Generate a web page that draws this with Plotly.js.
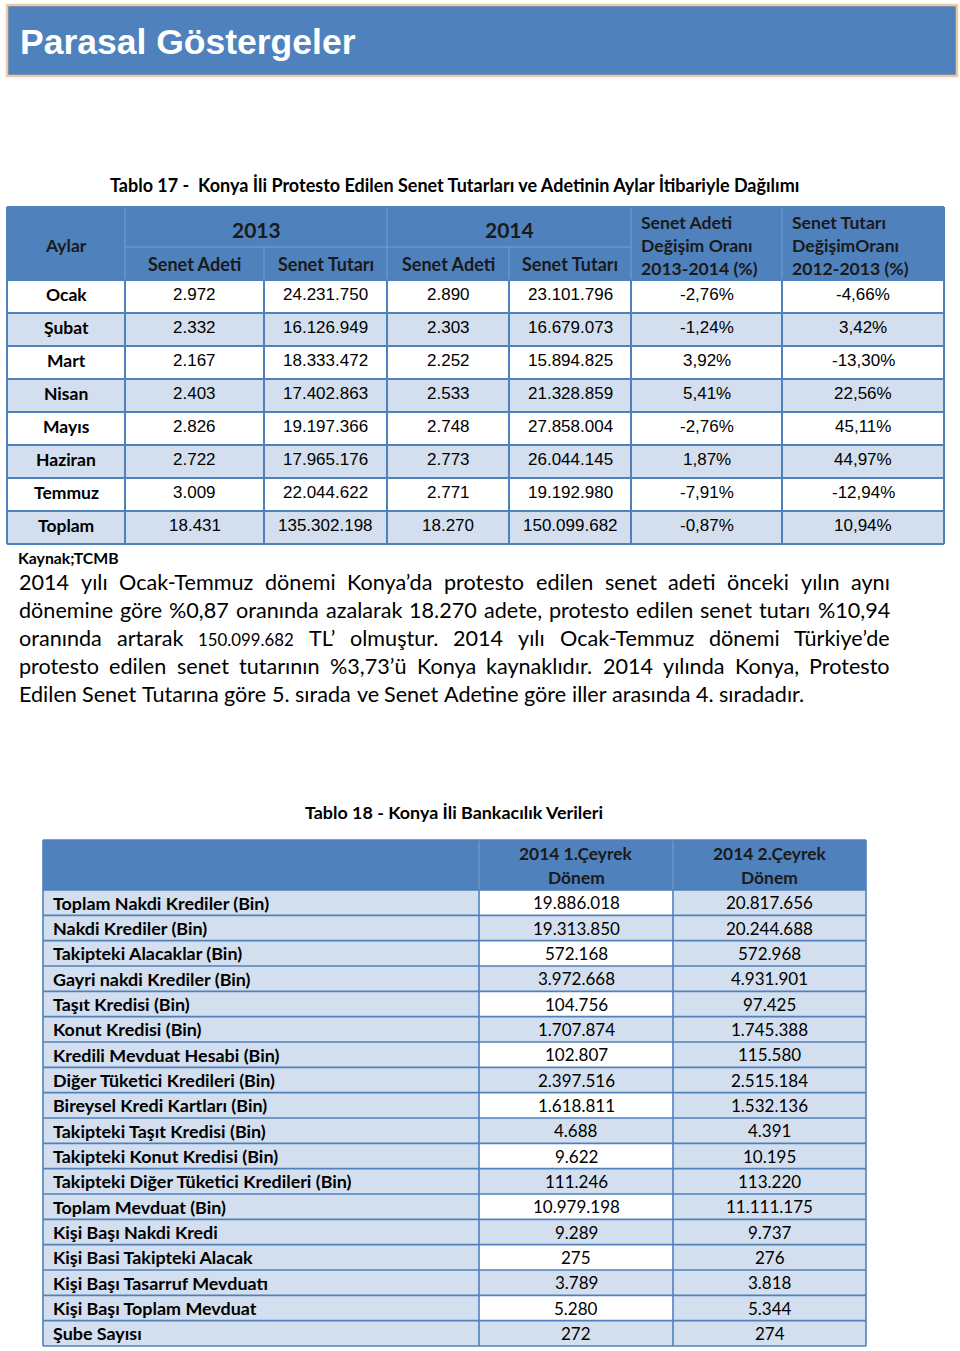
<!DOCTYPE html>
<html>
<head>
<meta charset="utf-8">
<script src="https://cdn.plot.ly/plotly-3.0.1.min.js"></script>
<style>html,body{margin:0;padding:0;background:#fff;}#chart{width:960px;height:1351px;}</style>
</head>
<body>
<div id="chart"></div>
<script>
// ---------------- DATA ----------------
const pageTitle = 'Parasal Göstergeler';
const table17Title = 'Tablo 17 -  Konya İli Protesto Edilen Senet Tutarları ve Adetinin Aylar İtibariyle Dağılımı';
const years = ['2013', '2014'];
const subHeaders = ['Senet Adeti', 'Senet Tutarı'];
const changeHeaderA = ['Senet Adeti', 'Değişim Oranı', '2013-2014 (%)'];
const changeHeaderB = ['Senet Tutarı', 'DeğişimOranı', '2012-2013 (%)'];
const months = ['Ocak', 'Şubat', 'Mart', 'Nisan', 'Mayıs', 'Haziran', 'Temmuz', 'Toplam'];
const adet2013 = ['2.972', '2.332', '2.167', '2.403', '2.826', '2.722', '3.009', '18.431'];
const tutar2013 = ['24.231.750', '16.126.949', '18.333.472', '17.402.863', '19.197.366', '17.965.176', '22.044.622', '135.302.198'];
const adet2014 = ['2.890', '2.303', '2.252', '2.533', '2.748', '2.773', '2.771', '18.270'];
const tutar2014 = ['23.101.796', '16.679.073', '15.894.825', '21.328.859', '27.858.004', '26.044.145', '19.192.980', '150.099.682'];
const adetChange = ['-2,76%', '-1,24%', '3,92%', '5,41%', '-2,76%', '1,87%', '-7,91%', '-0,87%'];
const tutarChange = ['-4,66%', '3,42%', '-13,30%', '22,56%', '45,11%', '44,97%', '-12,94%', '10,94%'];
const sourceNote = 'Kaynak;TCMB';
const paragraphLines = [
  '2014 yılı Ocak-Temmuz dönemi Konya’da protesto edilen senet adeti önceki yılın aynı',
  'dönemine göre %0,87 oranında azalarak 18.270 adete, protesto edilen senet tutarı %10,94',
  'oranında artarak 150.099.682 TL’ olmuştur. 2014 yılı Ocak-Temmuz dönemi Türkiye’de',
  'protesto edilen senet tutarının %3,73’ü Konya kaynaklıdır. 2014 yılında Konya, Protesto',
  'Edilen Senet Tutarına göre 5. sırada ve Senet Adetine göre iller arasında 4. sıradadır.'
];
const table18Title = 'Tablo 18 - Konya İli Bankacılık Verileri';
const quarterHeaders = [['2014 1.Çeyrek', 'Dönem'], ['2014 2.Çeyrek', 'Dönem']];
const bankLabels = [
  'Toplam Nakdi Krediler (Bin)', 'Nakdi Krediler (Bin)', 'Takipteki Alacaklar (Bin)',
  'Gayri nakdi Krediler (Bin)', 'Taşıt Kredisi (Bin)', 'Konut Kredisi (Bin)',
  'Kredili Mevduat Hesabi (Bin)', 'Diğer Tüketici Kredileri (Bin)', 'Bireysel Kredi Kartları (Bin)',
  'Takipteki Taşıt Kredisi (Bin)', 'Takipteki Konut Kredisi (Bin)', 'Takipteki Diğer Tüketici Kredileri (Bin)',
  'Toplam Mevduat (Bin)', 'Kişi Başı Nakdi Kredi', 'Kişi Basi Takipteki Alacak',
  'Kişi Başı Tasarruf Mevduatı', 'Kişi Başı Toplam Mevduat', 'Şube Sayısı'
];
const q1Values = ['19.886.018', '19.313.850', '572.168', '3.972.668', '104.756', '1.707.874', '102.807', '2.397.516', '1.618.811', '4.688', '9.622', '111.246', '10.979.198', '9.289', '275', '3.789', '5.280', '272'];
const q2Values = ['20.817.656', '20.244.688', '572.968', '4.931.901', '97.425', '1.745.388', '115.580', '2.515.184', '1.532.136', '4.391', '10.195', '113.220', '11.111.175', '9.737', '276', '3.818', '5.344', '274'];

// ---------------- STYLE ----------------
const W = 960, H = 1351;
const BLUE = '#4f81bd', LIGHT = '#d3dfee', GRID = '#4f81bd', SUBTLE = '#7aa0d2';
const CAL = 'Lato, "Open Sans", sans-serif';
const ARI = '"Liberation Sans", Arial, sans-serif';
const shapes = [], annotations = [];

function rect(x0, y0, x1, y1, fill, lc, lw) {
  shapes.push({type: 'rect', xref: 'x', yref: 'y', x0, y0, x1, y1, fillcolor: fill,
    line: {color: lc || 'rgba(0,0,0,0)', width: lw || 0}, layer: 'below'});
}
function line(x0, y0, x1, y1, color, width) {
  shapes.push({type: 'line', xref: 'x', yref: 'y', x0, y0, x1, y1, line: {color, width}, layer: 'above'});
}
function txt(x, y, s, o) {
  o = o || {};
  annotations.push({xref: 'x', yref: 'y', x, y, text: o.bold ? '<b>' + s + '</b>' : s, showarrow: false,
    xanchor: o.anchor || 'center', yanchor: 'middle', yshift: o.yshift || 0,
    borderpad: 0, borderwidth: 0,
    font: {family: o.family || CAL, size: o.size || 17, color: o.color || '#000'}});
}

// canvas measurer for justified paragraph
const ctx = document.createElement('canvas').getContext('2d');
function measure(s, size, weight) {
  ctx.font = (weight || 'normal') + ' ' + size + 'px Lato';
  return ctx.measureText(s).width;
}

// ---------------- BANNER ----------------
rect(7, 5, 957, 76, BLUE, '#efc9a3', 2.5);
txt(20, 42, pageTitle, {anchor: 'left', bold: true, size: 35.5, family: ARI, color: '#ffffff'});

// ---------------- TABLE 17 ----------------
txt(454, 185, table17Title, {bold: true, size: 18});
const c1 = [7, 125, 264, 387, 509, 631, 782, 944];
const t1Top = 207, t1Mid = 247, t1HeadBot = 280, t1Row = 33;
rect(c1[0], t1Top, c1[7], t1HeadBot, BLUE);
months.forEach((m, i) => {
  const y0 = t1HeadBot + i * t1Row;
  rect(c1[0], y0, c1[7], y0 + t1Row, i % 2 === 0 ? '#ffffff' : LIGHT);
});
const t1Bot = t1HeadBot + months.length * t1Row;
// header subtle separators
line(c1[1], t1Top, c1[1], t1HeadBot, SUBTLE, 1);
line(c1[3], t1Top, c1[3], t1HeadBot, SUBTLE, 1);
line(c1[5], t1Top, c1[5], t1HeadBot, SUBTLE, 1);
line(c1[6], t1Top, c1[6], t1HeadBot, SUBTLE, 1);
line(c1[1], t1Mid, c1[5], t1Mid, SUBTLE, 1);
line(c1[2], t1Mid, c1[2], t1HeadBot, SUBTLE, 1);
line(c1[4], t1Mid, c1[4], t1HeadBot, SUBTLE, 1);
// body grid
for (let i = 0; i <= months.length; i++) line(c1[0], t1HeadBot + i * t1Row, c1[7], t1HeadBot + i * t1Row, GRID, 2);
c1.forEach((x, j) => line(x, (j === 0 || j === 7) ? t1Top : t1HeadBot, x, t1Bot, GRID, 2));
line(c1[0], t1Top, c1[7], t1Top, GRID, 2);
// header texts
const hc = '#1a1a1a';
txt((c1[0] + c1[1]) / 2, 245, 'Aylar', {bold: true, size: 17.5, color: hc});
txt((c1[1] + c1[3]) / 2, 229, years[0], {bold: true, size: 21, color: hc});
txt((c1[3] + c1[5]) / 2, 229, years[1], {bold: true, size: 21, color: hc});
[1, 2, 3, 4].forEach(j => txt((c1[j] + c1[j + 1]) / 2, 264, subHeaders[(j - 1) % 2], {bold: true, size: 18, color: hc}));
changeHeaderA.forEach((s, k) => txt(641, 222 + k * 23, s, {anchor: 'left', bold: true, size: 17.6, color: hc}));
changeHeaderB.forEach((s, k) => txt(792, 222 + k * 23, s, {anchor: 'left', bold: true, size: 17.6, color: hc}));
// body texts
const t1Cols = [adet2013, tutar2013, adet2014, tutar2014, adetChange, tutarChange];
months.forEach((m, i) => {
  const yc = t1HeadBot + i * t1Row + t1Row / 2 - 2;
  txt((c1[0] + c1[1]) / 2, yc, m, {bold: true, size: 17.5});
  t1Cols.forEach((col, j) => {
    txt((c1[j + 1] + c1[j + 2]) / 2, yc, col[i], {family: ARI, size: 17});
  });
});
txt(18, 557, sourceNote, {anchor: 'left', bold: true, size: 15.8});

// ---------------- PARAGRAPH (justified) ----------------
const pX0 = 19, pX1 = 890;
const lastLine = paragraphLines[paragraphLines.length - 1];
const pSize = Math.round(20 * 786 / measure(lastLine, 20) * 10) / 10;
const smallWord = '150.099.682', smallSize = pSize * 0.78;
paragraphLines.forEach((ln, k) => {
  const y = 582 + k * 28;
  const words = ln.split(' ');
  const sizes = words.map(w => (k === 2 && w === smallWord) ? smallSize : pSize);
  const widths = words.map((w, i) => measure(w, sizes[i]));
  const total = widths.reduce((a, b) => a + b, 0);
  const isLast = k === paragraphLines.length - 1;
  const gap = isLast ? measure(' ', pSize) : (pX1 - pX0 - total) / (words.length - 1);
  let x = pX0;
  words.forEach((w, i) => {
    txt(x, y, w, {anchor: 'left', size: sizes[i], yshift: sizes[i] < pSize ? -1.5 : 0});
    x += widths[i] + gap;
  });
});

// ---------------- TABLE 18 ----------------
txt(454, 812, table18Title, {bold: true, size: 17.9});
const c2 = [43, 479, 673, 866];
const t2Top = 840, t2HeadBot = 890, t2Row = (1346 - 890) / bankLabels.length;
rect(c2[0], t2Top, c2[3], t2HeadBot, BLUE);
bankLabels.forEach((lab, i) => {
  const y0 = t2HeadBot + i * t2Row;
  rect(c2[0], y0, c2[1], y0 + t2Row, LIGHT);
  rect(c2[1], y0, c2[2], y0 + t2Row, i % 2 === 0 ? '#ffffff' : LIGHT);
  rect(c2[2], y0, c2[3], y0 + t2Row, LIGHT);
});
const t2Bot = t2HeadBot + bankLabels.length * t2Row;
line(c2[1], t2Top, c2[1], t2HeadBot, SUBTLE, 1);
line(c2[2], t2Top, c2[2], t2HeadBot, SUBTLE, 1);
for (let i = 0; i <= bankLabels.length; i++) line(c2[0], t2HeadBot + i * t2Row, c2[3], t2HeadBot + i * t2Row, GRID, 1.6);
c2.forEach((x, j) => line(x, (j === 0 || j === 3) ? t2Top : t2HeadBot, x, t2Bot, GRID, 1.6));
line(c2[0], t2Top, c2[3], t2Top, GRID, 1.6);
quarterHeaders.forEach((hh, j) => {
  const xc = (c2[j + 1] + c2[j + 2]) / 2;
  txt(xc, 853, hh[0], {bold: true, size: 17.4, color: hc});
  txt(xc, 877, hh[1], {bold: true, size: 17.4, color: hc});
});
bankLabels.forEach((lab, i) => {
  const yc = t2HeadBot + i * t2Row + t2Row / 2;
  txt(53, yc, lab, {anchor: 'left', bold: true, size: 17.9});
  txt((c2[1] + c2[2]) / 2, yc, q1Values[i], {size: 17});
  txt((c2[2] + c2[3]) / 2, yc, q2Values[i], {size: 17});
});

// ---------------- RENDER ----------------
const layout = {
  width: W, height: H,
  margin: {l: 0, r: 0, t: 0, b: 0, pad: 0},
  paper_bgcolor: '#ffffff', plot_bgcolor: '#ffffff',
  xaxis: {range: [0, W], visible: false, fixedrange: true},
  yaxis: {range: [H, 0], visible: false, fixedrange: true},
  showlegend: false,
  shapes, annotations
};
Plotly.newPlot('chart', [{x: [], y: [], type: 'scatter', hoverinfo: 'skip'}], layout, {staticPlot: true, displayModeBar: false});
</script>
</body>
</html>
